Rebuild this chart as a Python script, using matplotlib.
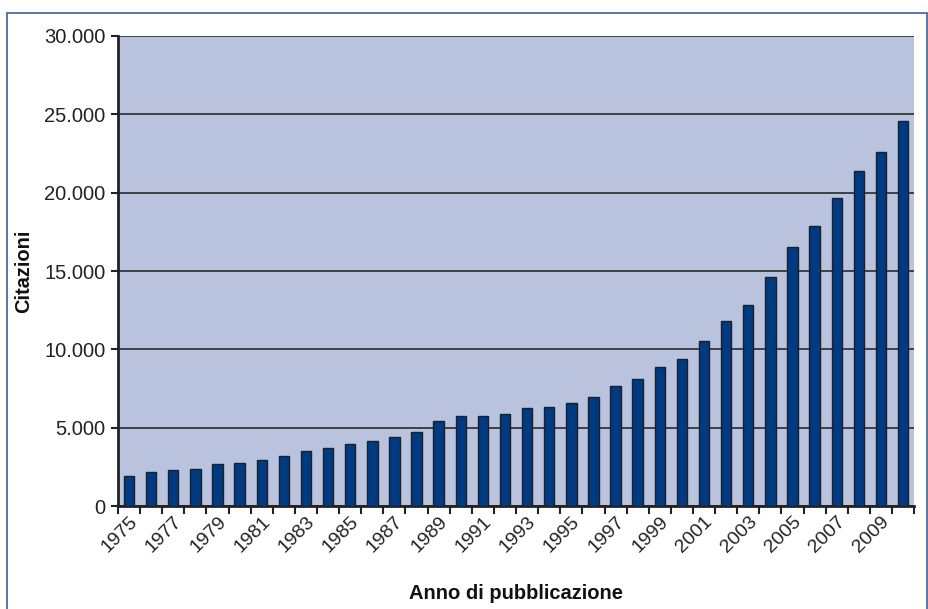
import matplotlib
matplotlib.use("Agg")
import matplotlib.pyplot as plt
from matplotlib.patches import Rectangle
from matplotlib.ticker import FuncFormatter, MultipleLocator
import numpy as np

plt.rcParams["font.family"] = ["Liberation Sans", "DejaVu Sans"]

# citations per year of publication
anni = list(range(1975, 2011))
citazioni = [1900, 2200, 2280, 2390, 2660, 2780, 2970, 3220, 3520, 3690,
             3970, 4160, 4380, 4700, 5430, 5750, 5740, 5900, 6270, 6350,
             6550, 6970, 7650, 8080, 8850, 9400, 10560, 11790, 12830, 14630,
             16520, 17880, 19650, 21390, 22590, 24560]
etichette = [str(a) if (a - 1975) % 2 == 0 else "" for a in anni]

fig = plt.figure(figsize=(9.29, 6.09), dpi=100)
ax = fig.add_axes([0.127, 0.169, 0.857, 0.772])
ax.set_facecolor("#bac3dd")

x = np.arange(len(anni))
ax.bar(x, citazioni, width=0.47, color="#003a80", edgecolor="#1a1f2e",
       linewidth=1.0, zorder=3)

ax.set_xlim(-0.5, len(anni) - 0.5)
ax.set_ylim(0, 30000)
ax.yaxis.set_major_locator(MultipleLocator(5000))
ax.yaxis.set_major_formatter(FuncFormatter(lambda v, p: f"{int(v):,}".replace(",", ".")))
ax.grid(axis="y", color="#2a2a2a", linewidth=1.2, zorder=1)

ax.set_xticks(x)
ax.set_xticklabels(etichette, rotation=45, ha="right", rotation_mode="anchor")
ax.set_xticks(np.arange(-0.5, len(anni)), minor=True)
ax.tick_params(axis="x", which="major", length=0, pad=5, labelsize=14, colors="#222222")
ax.tick_params(axis="x", which="minor", length=6, width=1.5, color="#222222")
ax.tick_params(axis="y", length=5, width=1.5, labelsize=14.5, color="#222222", labelcolor="#222222", pad=4)

for s in ["top", "right"]:
    ax.spines[s].set_visible(False)
for s in ["left", "bottom"]:
    ax.spines[s].set_linewidth(2)
    ax.spines[s].set_color("#222222")

ax.set_ylabel("Citazioni", fontsize=14.5, fontweight="bold", labelpad=8, color="#111111")
ax.set_xlabel("Anno di pubblicazione", fontsize=14.5, fontweight="bold", labelpad=20, color="#111111")

# outer frame
fig.patches.append(Rectangle((7 / 929, -0.01), 920 / 929, 1 - 13 / 609 + 0.01,
                             transform=fig.transFigure, fill=False,
                             edgecolor="#3d5f95", linewidth=1.2))

fig.savefig("out.png", dpi=100)
